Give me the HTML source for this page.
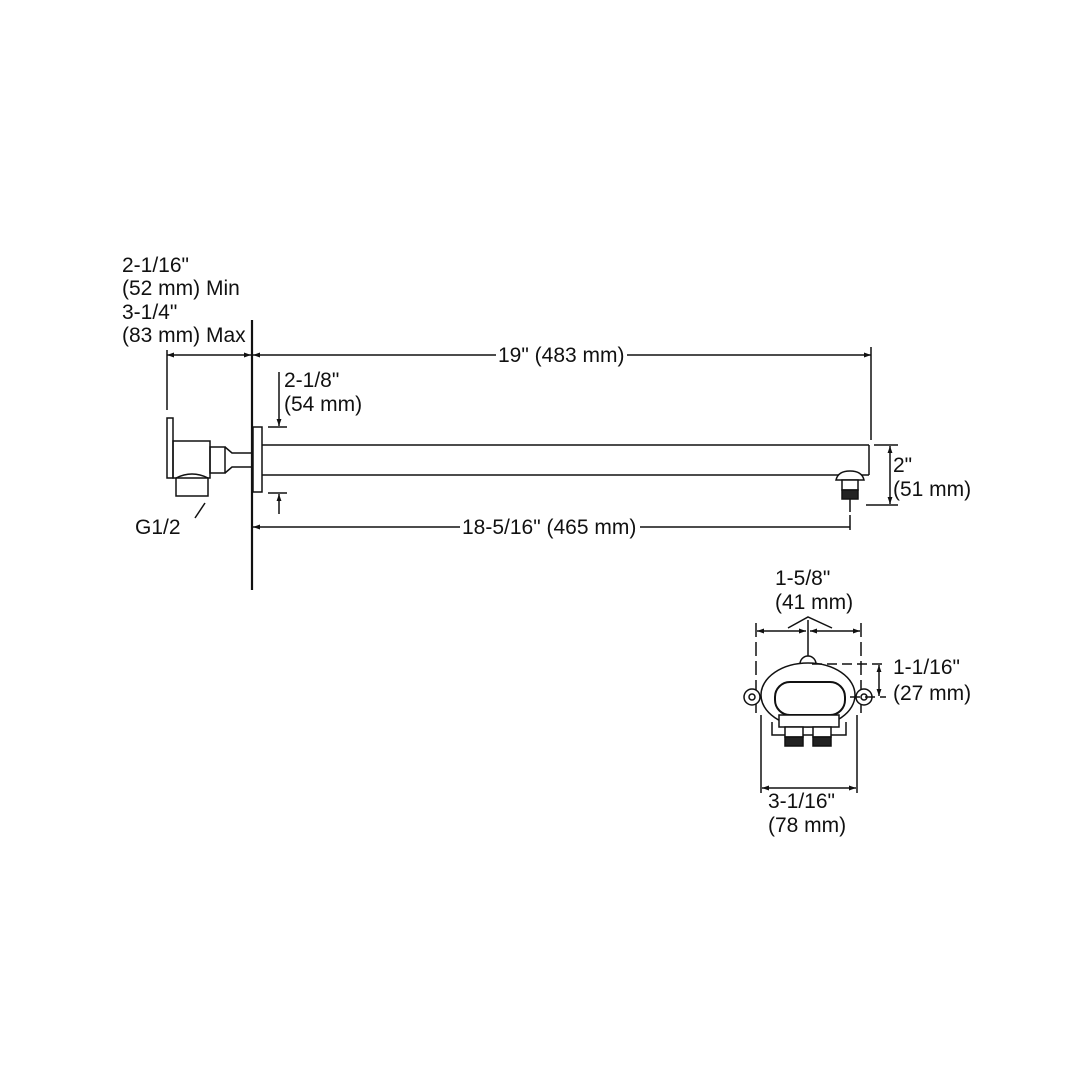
<!DOCTYPE html>
<html><head><style>body{margin:0;background:#fff}svg{display:block}text{font-family:"Liberation Sans",sans-serif;font-size:21px;fill:#111}</style></head>
<body>
<svg width="1080" height="1080" viewBox="0 0 1080 1080" xmlns="http://www.w3.org/2000/svg">
<defs><marker id="a" viewBox="0 0 10 10" refX="10" refY="5" markerWidth="11" markerHeight="7" orient="auto-start-reverse" markerUnits="userSpaceOnUse"><path d="M0,1.5L10,5L0,8.5z" fill="#111"/></marker></defs>
<g stroke="#111" fill="none" stroke-width="1.5">
<line x1="252" y1="320" x2="252" y2="590" stroke-width="2.2"/>
<rect x="253" y="427" width="9" height="65" fill="#fff"/>
<line x1="262" y1="445" x2="869" y2="445"/>
<line x1="262" y1="475" x2="869" y2="475"/>
<line x1="869" y1="445" x2="869" y2="475"/>
<line x1="871" y1="347" x2="871" y2="440"/>
<line x1="253" y1="355" x2="496" y2="355" marker-start="url(#a)"/>
<line x1="627" y1="355" x2="871" y2="355" marker-end="url(#a)"/>
<line x1="167" y1="350" x2="167" y2="410"/>
<line x1="167" y1="355" x2="251" y2="355" marker-start="url(#a)" marker-end="url(#a)"/>
<line x1="253" y1="527" x2="460" y2="527" marker-start="url(#a)"/>
<line x1="640" y1="527" x2="850" y2="527"/>
<line x1="850" y1="515" x2="850" y2="530"/>
<line x1="279" y1="372" x2="279" y2="426" marker-end="url(#a)"/>
<line x1="268" y1="427" x2="287" y2="427"/>
<line x1="268" y1="493" x2="287" y2="493"/>
<line x1="279" y1="514" x2="279" y2="494" marker-end="url(#a)"/>
<rect x="167" y="418" width="6" height="60"/>
<rect x="173" y="441" width="37" height="37"/>
<path d="M176,478 L176,496 L208,496 L208,478 M176,478 Q192,470 208,478"/>
<rect x="210" y="447" width="15" height="26"/>
<path d="M225,447 L232,453 L252,453 M225,473 L232,467 L252,467"/>
<line x1="195" y1="518" x2="205" y2="503"/>
<path d="M836,480 Q838,471 850,471 Q862,471 864,480 Z" fill="#fff"/>
<rect x="842" y="480" width="16" height="10" fill="#fff"/>
<rect x="842" y="490" width="16" height="9" fill="#222"/>
<line x1="850" y1="499" x2="850" y2="512"/>
<line x1="874" y1="445" x2="898" y2="445"/>
<line x1="866" y1="505" x2="898" y2="505"/>
<line x1="890" y1="446" x2="890" y2="504" marker-start="url(#a)" marker-end="url(#a)"/>
<line x1="756" y1="623" x2="756" y2="715" stroke-dasharray="14 5"/>
<line x1="861" y1="623" x2="861" y2="715" stroke-dasharray="14 5"/>
<line x1="761" y1="715" x2="761" y2="793"/>
<line x1="857" y1="715" x2="857" y2="793"/>
<line x1="757" y1="631" x2="806" y2="631" marker-start="url(#a)" marker-end="url(#a)"/>
<line x1="810" y1="631" x2="860" y2="631" marker-start="url(#a)" marker-end="url(#a)"/>
<line x1="808" y1="620" x2="808" y2="680"/>
<path d="M788,628 L808,617 L832,628"/>
<line x1="762" y1="788" x2="856" y2="788" marker-start="url(#a)" marker-end="url(#a)"/>
<circle cx="752" cy="697" r="8" fill="#fff"/><circle cx="752" cy="697" r="3"/>
<circle cx="864" cy="697" r="8" fill="#fff"/><circle cx="864" cy="697" r="3"/>
<circle cx="808" cy="664" r="8" fill="#fff"/>
<path d="M772,722 L772,735 L846,735 L846,722"/>
<ellipse cx="808" cy="695" rx="47" ry="32" fill="#fff"/>
<rect x="775" y="682" width="70" height="33" rx="15" stroke-width="2"/>
<rect x="779" y="715" width="60" height="12" fill="#fff"/>
<rect x="785" y="727" width="18" height="10" fill="#fff"/>
<rect x="785" y="737" width="18" height="9" fill="#222"/>
<rect x="813" y="727" width="18" height="10" fill="#fff"/>
<rect x="813" y="737" width="18" height="9" fill="#222"/>
<line x1="812" y1="664" x2="886" y2="664" stroke-dasharray="10 5"/>
<line x1="850" y1="697" x2="886" y2="697" stroke-dasharray="10 5"/>
<line x1="879" y1="665" x2="879" y2="696" marker-start="url(#a)" marker-end="url(#a)"/>
</g>
<text x="122" y="272">2-1/16"</text>
<text x="122" y="295">(52 mm) Min</text>
<text x="122" y="319">3-1/4"</text>
<text x="122" y="342">(83 mm) Max</text>
<text x="498" y="362">19" (483 mm)</text>
<text x="284" y="387">2-1/8"</text>
<text x="284" y="411">(54 mm)</text>
<text x="135" y="534">G1/2</text>
<text x="462" y="534">18-5/16" (465 mm)</text>
<text x="893" y="472">2"</text>
<text x="893" y="496">(51 mm)</text>
<text x="775" y="585">1-5/8"</text>
<text x="775" y="609">(41 mm)</text>
<text x="893" y="674">1-1/16"</text>
<text x="893" y="700">(27 mm)</text>
<text x="768" y="808">3-1/16"</text>
<text x="768" y="832">(78 mm)</text>
</svg>
</body></html>
